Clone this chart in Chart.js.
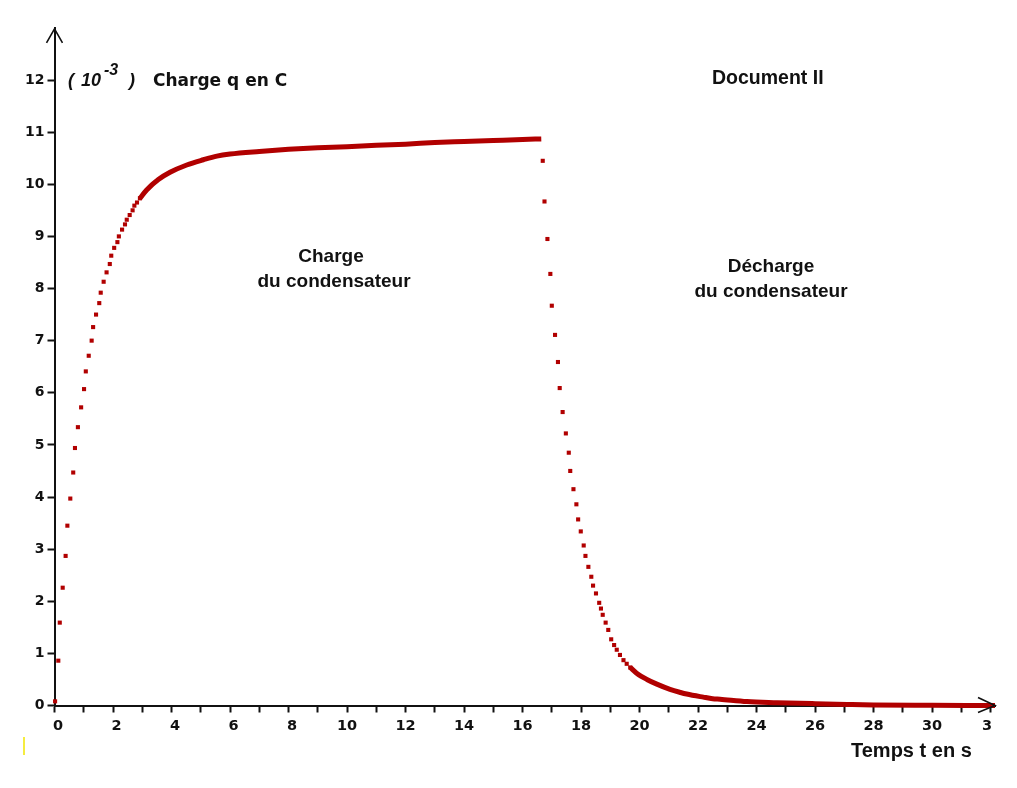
<!DOCTYPE html>
<html lang="fr">
<head>
  <meta charset="UTF-8">
  <title>Document II : charge et décharge du condensateur</title>
  <style>
    html, body { margin: 0; padding: 0; background: #fff; }
    canvas { display: block; }
  </style>
</head>
<body>
  <canvas id="graphe" width="1017" height="788"></canvas>

  <script src="https://cdn.jsdelivr.net/npm/chart.js"></script>
  <script>
    const chargeT = [0.02, 0.13, 0.18, 0.28, 0.38, 0.44, 0.54, 0.64, 0.70, 0.80, 0.91, 1.01, 1.07, 1.17, 1.27, 1.32, 1.42,
      1.53, 1.58, 1.68, 1.78, 1.89, 1.94, 2.04, 2.15, 2.20, 2.31, 2.41, 2.47, 2.57, 2.67, 2.73, 2.82, 2.92];
    const chargeQ = [0.08, 0.86, 1.59, 2.26, 2.87, 3.45, 3.97, 4.47, 4.94, 5.34, 5.72, 6.07, 6.41, 6.71, 7.00, 7.26, 7.50,
      7.72, 7.92, 8.13, 8.31, 8.47, 8.63, 8.78, 8.89, 9.00, 9.13, 9.23, 9.32, 9.41, 9.50, 9.59, 9.65, 9.73];

    // palier : les points sont si serrés qu'ils forment un trait
    const palierT = [2.92, 3.15, 3.55, 3.95, 4.52, 5.09, 5.55, 6, 7, 8, 9, 10, 11, 12, 13, 14, 15, 16, 16.64];
    const palierQ = [9.73, 9.89, 10.09, 10.23, 10.37, 10.47, 10.54, 10.58, 10.63, 10.67, 10.70, 10.72, 10.75, 10.77,
      10.80, 10.82, 10.84, 10.86, 10.87];

    const dechargeT = [16.69, 16.75, 16.85, 16.95, 17.00, 17.11, 17.21, 17.27, 17.37, 17.48, 17.58, 17.63, 17.74, 17.84,
      17.90, 17.99, 18.09, 18.15, 18.25, 18.35, 18.41, 18.51, 18.62, 18.68, 18.74, 18.84, 18.93, 19.03, 19.13, 19.22,
      19.33, 19.45, 19.56, 19.68];
    const dechargeQ = [10.45, 9.67, 8.95, 8.28, 7.67, 7.11, 6.59, 6.09, 5.63, 5.22, 4.85, 4.50, 4.15, 3.86, 3.57, 3.34,
      3.07, 2.87, 2.66, 2.47, 2.30, 2.15, 1.97, 1.86, 1.74, 1.59, 1.45, 1.27, 1.16, 1.07, 0.97, 0.87, 0.80, 0.73];

    const queueT = [19.68, 19.90, 20.25, 20.59, 21.04, 21.40, 21.61, 22.18, 22.50, 22.75, 23.67, 24.70, 26.00, 27.10,
      28.00, 30.00, 32.15];
    const queueQ = [0.73, 0.62, 0.50, 0.41, 0.31, 0.25, 0.22, 0.16, 0.13, 0.12, 0.075, 0.055, 0.035, 0.02, 0.01, 0.005, 0];

    const xTicks = [0, 1, 2, 3, 4, 5, 6, 7, 8, 9, 10, 11, 12, 13, 14, 15, 16, 17, 18, 19, 20, 21, 22, 23, 24, 25, 26, 27,
      28, 29, 30, 31, 32];
    const yTicks = [0, 1, 2, 3, 4, 5, 6, 7, 8, 9, 10, 11, 12];

    const ROUGE = '#b10000';
    const NOIR = '#111';

    function points(ts, qs) {
      return ts.map((t, i) => ({ x: t, y: qs[i] }));
    }

    // textes, flèches des axes
    const habillage = {
      id: 'habillage',
      afterDraw(chart) {
        const c = chart.ctx;
        const a = chart.chartArea;
        c.save();
        c.strokeStyle = NOIR;
        c.lineWidth = 1.6;
        c.beginPath();
        c.moveTo(a.left - 8, a.top + 15);
        c.lineTo(a.left, a.top + 1);
        c.lineTo(a.left + 8, a.top + 15);
        c.moveTo(a.right - 17, a.bottom - 8);
        c.lineTo(a.right, a.bottom);
        c.lineTo(a.right - 17, a.bottom + 7);
        c.stroke();

        c.fillStyle = NOIR;
        c.textBaseline = 'alphabetic';
        c.textAlign = 'left';
        c.font = 'italic bold 18px "Liberation Sans"';
        c.fillText('(', 68, 86);
        c.fillText('10', 81, 86);
        c.fillText(')', 129, 86);
        c.font = 'italic bold 16px "Liberation Sans"';
        c.fillText('-3', 104, 75);
        c.font = 'bold 17px "DejaVu Sans"';
        c.fillText('Charge q en C', 153, 86);
        c.font = 'bold 19.5px "Liberation Sans"';
        c.fillText('Document II', 712, 84);
        c.font = 'bold 20px "Liberation Sans"';
        c.fillText('Temps t en s', 851, 757);

        c.textAlign = 'center';
        c.font = 'bold 19px "Liberation Sans"';
        c.fillText('Charge', 331, 262);
        c.fillText('du condensateur', 334, 287);
        c.fillText('Décharge', 771, 272);
        c.fillText('du condensateur', 771, 297);

        c.strokeStyle = '#f2e600';
        c.lineWidth = 1.5;
        c.beginPath();
        c.moveTo(24, 737);
        c.lineTo(24, 755);
        c.stroke();
        c.restore();
      }
    };

    new Chart(document.getElementById('graphe'), {
      type: 'scatter',
      data: {
        datasets: [
          {
            data: points(chargeT, chargeQ),
            pointStyle: 'rect', pointRadius: 2.9, pointBackgroundColor: ROUGE, pointBorderWidth: 0,
            showLine: false, clip: false
          },
          {
            data: points(palierT, palierQ),
            showLine: true, borderColor: ROUGE, borderWidth: 5, pointRadius: 0,
            cubicInterpolationMode: 'monotone', clip: false
          },
          {
            data: points(dechargeT, dechargeQ),
            pointStyle: 'rect', pointRadius: 2.9, pointBackgroundColor: ROUGE, pointBorderWidth: 0,
            showLine: false, clip: false
          },
          {
            data: points(queueT, queueQ),
            showLine: true, borderColor: ROUGE, borderWidth: 5, pointRadius: 0,
            cubicInterpolationMode: 'monotone', clip: false
          }
        ]
      },
      options: {
        responsive: false,
        animation: false,
        layout: { padding: { top: 27.9, right: 22, left: 0, bottom: 0 } },
        plugins: { legend: { display: false }, tooltip: { enabled: false } },
        scales: {
          x: {
            type: 'linear', min: 0, max: 32.15,
            afterBuildTicks: s => { s.ticks = xTicks.map(v => ({ value: v })); },
            afterFit: s => { s.height = 82.5; },
            border: { display: true, color: NOIR, width: 2 },
            grid: { drawOnChartArea: false, drawTicks: true, tickLength: 7, tickColor: NOIR, tickWidth: 2 },
            ticks: {
              autoSkip: false, maxRotation: 0, padding: 5, color: NOIR,
              font: { family: 'DejaVu Sans', weight: 'bold', size: 14.5 },
              callback: v => {
                if (v === 32) return '3\u2002';
                if (v % 2 !== 0) return '';
                return v < 10 ? '\u2002' + v : String(v);
              }
            }
          },
          y: {
            type: 'linear', min: 0, max: 13,
            afterBuildTicks: s => { s.ticks = yTicks.map(v => ({ value: v })); },
            afterFit: s => { s.width = 54.5; },
            border: { display: true, color: NOIR, width: 2 },
            grid: { drawOnChartArea: false, drawTicks: true, tickLength: 7, tickColor: NOIR, tickWidth: 2 },
            ticks: {
              padding: 3, color: NOIR,
              font: { family: 'DejaVu Sans', weight: 'bold', size: 14 }
            }
          }
        }
      },
      plugins: [habillage]
    });
  </script>
</body>
</html>
